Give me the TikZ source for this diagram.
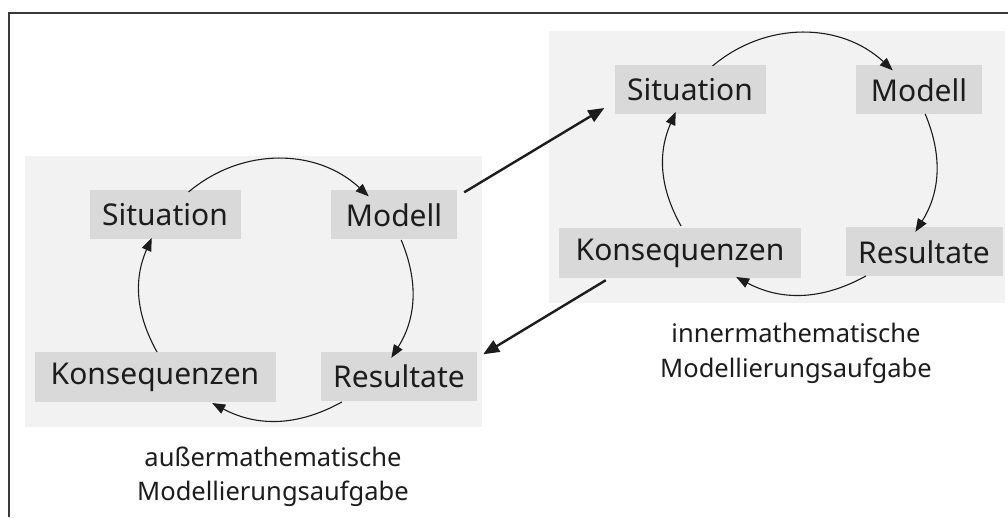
\documentclass[tikz,border=0pt]{standalone}
\usepackage{fontspec}
\setmainfont{Noto Sans}
\usetikzlibrary{arrows.meta,calc}
\definecolor{panelgrey}{HTML}{F2F2F2}
\definecolor{boxgrey}{HTML}{D9D9D9}
\definecolor{framegrey}{HTML}{3A3A3A}
\definecolor{inkgrey}{HTML}{1C1C1C}

% four arcs of one cycle: #1 = name prefix, #2 = centre coordinate
\newcommand{\drawcycle}[2]{%
  \path (#2) ++(130:136pt and 128pt) coordinate (#1a1);
  \path (#2) ++(47:136pt and 128pt)  coordinate (#1b1);
  \path (#2) ++(23:136pt and 128pt)  coordinate (#1a2);
  \path (#2) ++(-32:136pt and 128pt) coordinate (#1b2);
  \path (#2) ++(-61:136pt and 128pt) coordinate (#1a3);
  \path (#2) ++(-118:136pt and 128pt) coordinate (#1b3);
  \path (#2) ++(209:136pt and 128pt) coordinate (#1a4);
  \path (#2) ++(156:136pt and 128pt) coordinate (#1b4);
  \draw[cyc] (#1a1) to[bend left=41.5] (#1b1);
  \draw[cyc] (#1a2) to[bend left=27.5] (#1b2);
  \draw[cyc] (#1a3) to[bend left=28.5] (#1b3);
  \draw[cyc] (#1a4) to[bend left=26.5] (#1b4);
}

\begin{document}
\begin{tikzpicture}[x=1pt,y=1pt,
  panel/.style={fill=panelgrey, draw=none},
  stage/.style={fill=boxgrey, draw=none, minimum height=49pt, inner sep=0pt,
                font=\fontsize{30}{36}\selectfont, text=inkgrey},
  cyc/.style={line width=1.1pt, draw=inkgrey, -{Triangle[length=13pt,width=10pt]}},
  link/.style={line width=2.4pt, draw=inkgrey, -{Triangle[length=16pt,width=13pt]}},
  caption/.style={anchor=base, font=\fontsize{25.5}{34}\selectfont, text=inkgrey}]
\useasboundingbox (0,0) rectangle (1008,517);

% outer frame (top and left edges)
\draw[framegrey, line width=2pt] (8.5,0) -- (8.5,503.5) -- (1008,503.5);

% background panels
\fill[panel] (25,90) rectangle (482,361);
\fill[panel] (549,214) rectangle (1005,486);

% left cycle
\node[stage, minimum width=151pt] (lsit) at (165,302) {Situation};
\node[stage, minimum width=126pt] (lmod) at (394,302) {Modell};
\node[stage, minimum width=241pt, minimum height=50pt] (lkon) at (155,140) {Konsequenzen};
\node[stage, minimum width=156pt] (lres) at (399,141) {Resultate};

% right cycle
\node[stage, minimum width=151pt] (rsit) at (690,427) {Situation};
\node[stage, minimum width=126pt] (rmod) at (919,427) {Modell};
\node[stage, minimum width=242pt, minimum height=50pt] (rkon) at (680,264) {Konsequenzen};
\node[stage, minimum width=157pt] (rres) at (924,265) {Resultate};

\coordinate (lc) at (276,227);
\coordinate (rc) at (800,353);
\drawcycle{l}{lc}
\drawcycle{r}{rc}

% links between the two cycles
\draw[link] ([xshift=7pt,yshift=-2pt]lmod.north east) -- ([xshift=-10pt,yshift=-18pt]rsit.west);
\draw[link] ([xshift=47pt,yshift=-2pt]rkon.south west) -- ([xshift=6pt,yshift=-3pt]lres.north east);

% captions
\node[caption] (lcap1) at (273,51) {außermathematische};
\node[caption] (lcap2) at (273,17) {Modellierungsaufgabe};
\node[caption] (rcap1) at (796,175) {innermathematische};
\node[caption] (rcap2) at (796,140) {Modellierungsaufgabe};
\end{tikzpicture}
\end{document}
